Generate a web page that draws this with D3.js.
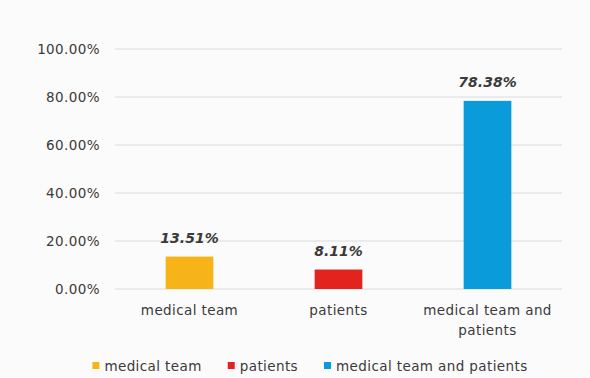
<!DOCTYPE html>
<html><head><meta charset="utf-8">
<script src="https://cdn.jsdelivr.net/npm/d3@7"></script>
<style>
html,body{margin:0;padding:0;background:#fbfbfb;}
svg{display:block;}
text{font-family:"DejaVu Sans",Verdana,sans-serif;fill:#3a3a3a;letter-spacing:0.4px;}
</style></head>
<body>
<svg id="c" width="590" height="378"></svg>
<script>
const categories = ["medical team", "patients", "medical team and patients"];
const values = [13.51, 8.11, 78.38];
const colors = ["#F7B419", "#E2231E", "#0A9BDB"];
const yTicks = [0, 20, 40, 60, 80, 100];

const svg = d3.select("#c");
const margin = {left: 115, right: 28, top: 49, bottom: 89};
const W = 590, H = 378;
const x = d3.scaleBand().domain(categories).range([margin.left, W - margin.right]).paddingInner(0.68).paddingOuter(0.34);
const y = d3.scaleLinear().domain([0, 100]).range([H - margin.bottom, margin.top]);

// gridlines
svg.append("g").selectAll("line").data(yTicks).join("line")
  .attr("x1", margin.left).attr("x2", W - margin.right)
  .attr("y1", d => y(d)).attr("y2", d => y(d))
  .attr("stroke", "#dcdcdc").attr("stroke-width", 1.2);

// y axis labels
const yAxis = d3.axisLeft(y).tickValues(yTicks).tickSize(0).tickPadding(15)
  .tickFormat(d => d.toFixed(2) + "%");
const ya = svg.append("g").attr("transform", `translate(${margin.left},0)`).call(yAxis);
ya.select(".domain").remove();
ya.selectAll("text").attr("font-size", 13.5).attr("fill", "#3a3a3a")
  .style("font-family", "DejaVu Sans, Verdana, sans-serif").style("letter-spacing", "0.4px");

// bars
svg.append("g").selectAll("rect").data(categories).join("rect")
  .attr("x", d => x(d)).attr("width", x.bandwidth())
  .attr("y", (d, i) => y(values[i])).attr("height", (d, i) => y(0) - y(values[i]))
  .attr("fill", (d, i) => colors[i]);

// data labels
svg.append("g").selectAll("text").data(categories).join("text")
  .attr("x", d => x(d) + x.bandwidth() / 2)
  .attr("y", (d, i) => y(values[i]) - 14)
  .attr("text-anchor", "middle").attr("font-size", 14)
  .attr("font-weight", "bold").attr("font-style", "italic")
  .style("letter-spacing", "0px")
  .text((d, i) => values[i].toFixed(2) + "%");

// x category labels
const xl = svg.append("g").selectAll("text").data(categories).join("text")
  .attr("x", d => x(d) + x.bandwidth() / 2)
  .attr("y", y(0) + 26)
  .attr("text-anchor", "middle").attr("font-size", 13.5);
xl.each(function(d) {
  const t = d3.select(this);
  const lines = d === "medical team and patients" ? ["medical team and", "patients"] : [d];
  lines.forEach((l, k) => t.append("tspan").attr("x", x(d) + x.bandwidth() / 2).attr("dy", k ? 20 : 0).text(l));
});

// legend
const legend = svg.append("g");
let lx = 0;
categories.forEach((c, i) => {
  legend.append("rect").attr("x", lx).attr("y", -4).attr("width", 7).attr("height", 7).attr("fill", colors[i]);
  const t = legend.append("text").attr("x", lx + 12).attr("y", 4.5).attr("font-size", 13.5).text(c);
  lx += 12 + t.node().getComputedTextLength() + 26;
});
const lw = lx - 26;
legend.attr("transform", `translate(${310 - lw / 2},366)`);
</script>
</body></html>
